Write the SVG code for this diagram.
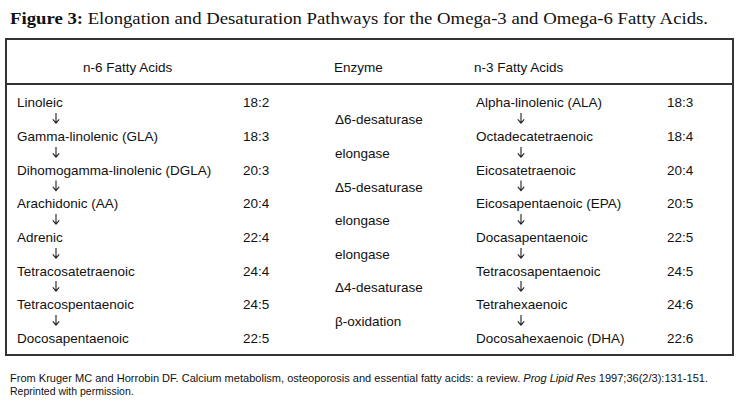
<svg xmlns="http://www.w3.org/2000/svg" width="740" height="409" viewBox="0 0 740 409">
<style>
.t{font-family:"Liberation Sans",Arial,sans-serif;font-size:13.5px;fill:#111}
.ttl{font-family:"Liberation Serif","Times New Roman",serif;font-size:17px;fill:#111}
.ft{font-family:"Liberation Sans",Arial,sans-serif;font-size:10.5px;fill:#111}
.arr{fill:none;stroke:#222;stroke-width:1.1}
</style>
<defs>
<path id="dn" d="M0,-11 V-1 M-3.2,-4.6 L0,-0.8 L3.2,-4.6"/>
</defs>
<rect width="740" height="409" fill="#fff"/>
<text class="ttl" x="10" y="24" textLength="698" lengthAdjust="spacingAndGlyphs"><tspan font-weight="bold">Figure 3:</tspan>  Elongation and Desaturation Pathways for the Omega-3 and Omega-6 Fatty Acids.</text>
<g id="table">
<rect x="6" y="39" width="727" height="316" fill="none" stroke="#333" stroke-width="2"/>
<line x1="6" y1="84" x2="733" y2="84" stroke="#333" stroke-width="2"/>
<text class="t" x="83" y="72">n-6 Fatty Acids</text>
<text class="t" x="334" y="72">Enzyme</text>
<text class="t" x="474" y="72">n-3 Fatty Acids</text>
</g>
<g id="n6">
<g id="n6-1"><text class="t" x="17" y="107">Linoleic</text><text class="t" x="243" y="107">18:2</text></g>
<g id="n6-2"><text class="t" x="17" y="141">Gamma-linolenic (GLA)</text><text class="t" x="243" y="141">18:3</text></g>
<g id="n6-3"><text class="t" x="17" y="175">Dihomogamma-linolenic (DGLA)</text><text class="t" x="243" y="175">20:3</text></g>
<g id="n6-4"><text class="t" x="17" y="208">Arachidonic (AA)</text><text class="t" x="243" y="208">20:4</text></g>
<g id="n6-5"><text class="t" x="17" y="242">Adrenic</text><text class="t" x="243" y="242">22:4</text></g>
<g id="n6-6"><text class="t" x="17" y="275.5">Tetracosatetraenoic</text><text class="t" x="243" y="275.5">24:4</text></g>
<g id="n6-7"><text class="t" x="17" y="309">Tetracospentaenoic</text><text class="t" x="243" y="309">24:5</text></g>
<g id="n6-8"><text class="t" x="17" y="343">Docosapentaenoic</text><text class="t" x="243" y="343">22:5</text></g>
</g>
<g id="enzymes">
<g id="e1"><text class="t" x="335" y="124">Δ6-desaturase</text></g>
<g id="e2"><text class="t" x="335" y="158">elongase</text></g>
<g id="e3"><text class="t" x="335" y="191.5">Δ5-desaturase</text></g>
<g id="e4"><text class="t" x="335" y="225">elongase</text></g>
<g id="e5"><text class="t" x="335" y="259">elongase</text></g>
<g id="e6"><text class="t" x="335" y="292">Δ4-desaturase</text></g>
<g id="e7"><text class="t" x="335" y="326">β-oxidation</text></g>
</g>
<g id="n3">
<g id="n3-1"><text class="t" x="476" y="107">Alpha-linolenic (ALA)</text><text class="t" x="667" y="107">18:3</text></g>
<g id="n3-2"><text class="t" x="476" y="141">Octadecatetraenoic</text><text class="t" x="667" y="141">18:4</text></g>
<g id="n3-3"><text class="t" x="476" y="175">Eicosatetraenoic</text><text class="t" x="667" y="175">20:4</text></g>
<g id="n3-4"><text class="t" x="476" y="208">Eicosapentaenoic (EPA)</text><text class="t" x="667" y="208">20:5</text></g>
<g id="n3-5"><text class="t" x="476" y="242">Docasapentaenoic</text><text class="t" x="667" y="242">22:5</text></g>
<g id="n3-6"><text class="t" x="476" y="275.5">Tetracosapentaenoic</text><text class="t" x="667" y="275.5">24:5</text></g>
<g id="n3-7"><text class="t" x="476" y="309">Tetrahexaenoic</text><text class="t" x="667" y="309">24:6</text></g>
<g id="n3-8"><text class="t" x="476" y="343">Docosahexaenoic (DHA)</text><text class="t" x="667" y="343">22:6</text></g>
</g>
<g id="connectors" class="arr">
<use href="#dn" x="56" y="124"/>
<use href="#dn" x="56" y="158"/>
<use href="#dn" x="56" y="191.5"/>
<use href="#dn" x="56" y="225"/>
<use href="#dn" x="56" y="259"/>
<use href="#dn" x="56" y="292"/>
<use href="#dn" x="56" y="326"/>
<use href="#dn" x="521" y="124"/>
<use href="#dn" x="521" y="158"/>
<use href="#dn" x="521" y="191.5"/>
<use href="#dn" x="521" y="225"/>
<use href="#dn" x="521" y="259"/>
<use href="#dn" x="521" y="292"/>
<use href="#dn" x="521" y="326"/>
</g>
<g id="footer">
<text class="ft" x="10" y="382" textLength="698" lengthAdjust="spacingAndGlyphs">From Kruger MC and Horrobin DF. Calcium metabolism, osteoporosis and essential fatty acids: a review.  <tspan font-style="italic">Prog Lipid Res</tspan> 1997;36(2/3):131-151.</text>
<text class="ft" x="10" y="395">Reprinted with permission.</text>
</g>
</svg>
